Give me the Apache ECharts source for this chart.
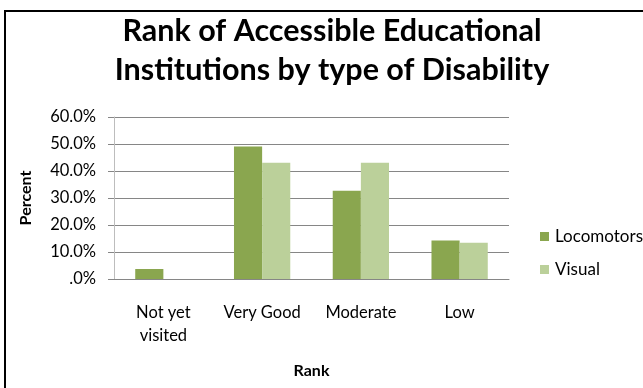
<!DOCTYPE html>
<html>
<head>
<meta charset="utf-8">
<script src="https://cdn.jsdelivr.net/npm/echarts@6/dist/echarts.min.js"></script>
<style>
  html, body { margin: 0; padding: 0; background: #fff; }
  #chart { width: 643px; height: 388px; }
</style>
</head>
<body>
<div id="chart"></div>
<script>
var titleText = 'Rank of Accessible Educational\nInstitutions by type of Disability';
var categories = ['Not yet\nvisited', 'Very Good', 'Moderate', 'Low'];
var locomotors = [3.7, 49.1, 32.7, 14.3];
var visual = [0, 43.1, 43.1, 13.4];
var seriesNames = ['Locomotors', 'Visual'];

var chart = echarts.init(document.getElementById('chart'));
var font = 'Lato, "Open Sans", sans-serif';

var option = {
  backgroundColor: '#fff',
  animation: false,
  textStyle: { fontFamily: font },
  title: {
    text: titleText,
    left: 327,
    textAlign: 'center',
    top: 7,
    textStyle: { fontFamily: font, fontWeight: 'bold', fontSize: 30.5, lineHeight: 39, color: '#000' }
  },
  graphic: [{
    type: 'rect',
    shape: { x: 5, y: 11, width: 700, height: 400 },
    style: { fill: 'none', stroke: '#000', lineWidth: 2 }
  }],
  legend: {
    orient: 'vertical',
    left: 535,
    top: 223,
    itemWidth: 9,
    itemHeight: 9,
    itemGap: 16,
    icon: 'rect',
    textStyle: { fontFamily: font, fontSize: 17, color: '#000', padding: [0, 0, 0, 1] },
    data: seriesNames
  },
  grid: { left: 114, right: 134, top: 117, bottom: 109 },
  xAxis: {
    type: 'category',
    data: categories,
    name: 'Rank',
    nameLocation: 'middle',
    nameGap: 84,
    nameTextStyle: { fontFamily: font, fontWeight: 'bold', fontSize: 16, color: '#000' },
    axisLine: { lineStyle: { color: '#868686' } },
    axisTick: { show: false },
    axisLabel: { color: '#000', fontSize: 16.5, lineHeight: 23, margin: 22, interval: 0 }
  },
  yAxis: {
    type: 'value',
    min: 0,
    max: 60,
    interval: 10,
    name: 'Percent',
    nameLocation: 'middle',
    nameGap: 80,
    nameTextStyle: { fontFamily: font, fontWeight: 'bold', fontSize: 16, color: '#000' },
    axisLine: { show: true, lineStyle: { color: '#bdbdbd' } },
    axisTick: { show: true, length: 6, lineStyle: { color: '#868686' } },
    splitLine: { lineStyle: { color: '#868686' } },
    axisLabel: {
      color: '#000', fontSize: 16.5, margin: 18,
      formatter: function (v) { return v === 0 ? '.0%' : v.toFixed(1) + '%'; }
    }
  },
  series: [
    {
      name: seriesNames[0], type: 'bar', data: locomotors,
      barGap: '0%', barCategoryGap: '43%',
      itemStyle: { color: '#8aa64f' }
    },
    {
      name: seriesNames[1], type: 'bar', data: visual,
      barGap: '0%', barCategoryGap: '43%',
      itemStyle: { color: '#bbd09a' }
    }
  ]
};
chart.setOption(option);
</script>
</body>
</html>
